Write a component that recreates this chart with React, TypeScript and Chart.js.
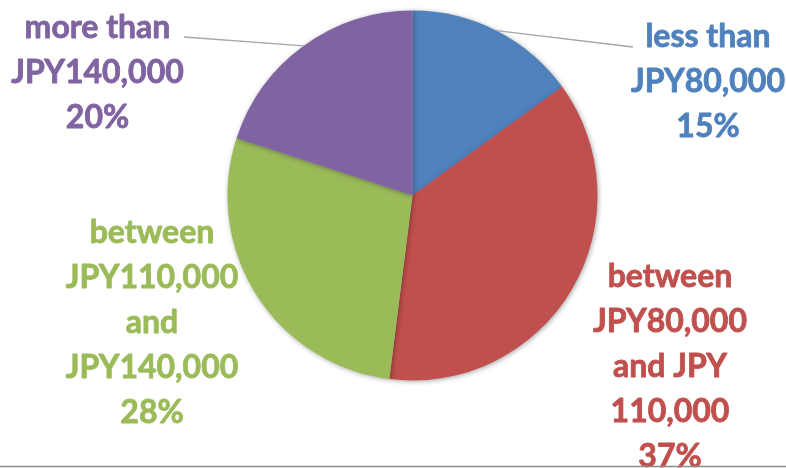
import React, { useEffect, useRef } from "react";
import { Chart, registerables } from "chart.js";

Chart.register(...registerables);

const categories = ["less than JPY80,000", "between JPY80,000 and JPY 110,000", "between JPY110,000 and JPY140,000", "more than JPY140,000"];
const values = [15, 37, 28, 20];
const labelLines = [
  ["less than", "JPY80,000", "15%"],
  ["between", "JPY80,000", "and JPY", "110,000", "37%"],
  ["between", "JPY110,000", "and", "JPY140,000", "28%"],
  ["more than", "JPY140,000", "20%"],
];
const colors = ["#4F81BD", "#C0504D", "#9BBB59", "#8064A2"];
// label anchor (first baseline, centred) relative to pie centre, px
const labelOffsets = [
  [295.5, -148.5],
  [257.5, 91.5],
  [-260.5, 47.5],
  [-315, -157.5],
];
// leader line label-side end relative to pie centre (null = no leader)
const leaderEnds: (number[] | null)[] = [[220.5, -148.5], null, null, [-228.5, -158.5]];

const labelPlugin = {
  id: "outsideLabels",
  beforeDatasetsDraw(chart: any) {
    const ctx = chart.ctx;
    ctx.save();
    ctx.shadowColor = "rgba(0,0,0,0.35)";
    ctx.shadowBlur = 5;
    ctx.shadowOffsetX = 1;
    ctx.shadowOffsetY = 1;
  },
  afterDatasetsDraw(chart: any) {
    const ctx = chart.ctx;
    ctx.restore();
    const meta = chart.getDatasetMeta(0);
    ctx.save();
    meta.data.forEach((arc: any, i: number) => {
      const cx = arc.x, cy = arc.y;
      const r = arc.outerRadius;
      const mid = (arc.startAngle + arc.endAngle) / 2;
      const le = leaderEnds[i];
      if (le) {
        ctx.beginPath();
        ctx.strokeStyle = "#A6A6A6";
        ctx.lineWidth = 1.3;
        ctx.moveTo(cx + r * Math.cos(mid), cy + r * Math.sin(mid));
        ctx.lineTo(cx + le[0], cy + le[1]);
        ctx.stroke();
      }
      ctx.fillStyle = colors[i];
      ctx.strokeStyle = colors[i];
      ctx.lineWidth = 0.8;
      ctx.lineJoin = "round";
      ctx.font = "bold 32px Lato";
      ctx.textAlign = "center";
      ctx.textBaseline = "alphabetic";
      const [ox, oy] = labelOffsets[i];
      labelLines[i].forEach((t, k) => {
        ctx.fillText(t, cx + ox, cy + oy + k * 45);
        ctx.strokeText(t, cx + ox, cy + oy + k * 45);
      });
    });
    // bottom border line
    ctx.beginPath();
    ctx.strokeStyle = "#8C8C8C";
    ctx.lineWidth = 1.5;
    ctx.moveTo(0, chart.height - 1.5);
    ctx.lineTo(chart.width, chart.height - 1.5);
    ctx.stroke();
    ctx.restore();
  },
};

export default function App() {
  const ref = useRef<HTMLCanvasElement>(null);
  useEffect(() => {
    document.body.style.margin = "0";
    const chart = new Chart(ref.current!, {
      type: "pie",
      data: {
        labels: categories,
        datasets: [{ data: values, backgroundColor: colors, borderWidth: 0 }],
      },
      options: {
        animation: false,
        responsive: false,
        layout: { padding: { left: 40, right: 1, top: 10.5, bottom: 87.5 } },
        plugins: { legend: { display: false }, tooltip: { enabled: false } },
      },
      plugins: [labelPlugin],
    });
    return () => chart.destroy();
  }, []);
  return (
    <div style={{ width: 786, height: 468, background: "#fff" }}>
      <canvas ref={ref} width={786} height={468} />
    </div>
  );
}
